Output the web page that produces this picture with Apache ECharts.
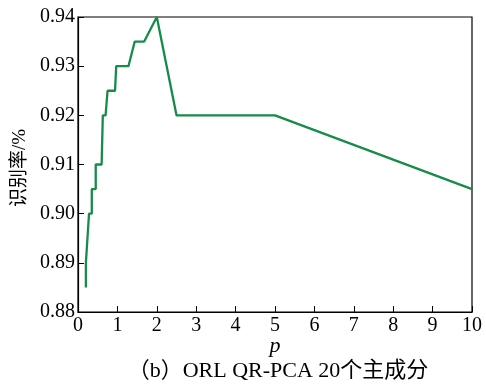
<!DOCTYPE html>
<html>
<head>
<meta charset="utf-8">
<script src="https://cdn.jsdelivr.net/npm/echarts@6/dist/echarts.min.js"></script>
<style>
  html, body { margin: 0; padding: 0; background: #fff; }
  #chart { width: 486px; height: 385px; }
</style>
</head>
<body>
<div id="chart"></div>
<script>
// Recognition rate versus parameter p (ORL, QR-PCA, 20 principal components)
const pValues = [0.2, 0.2, 0.24, 0.28, 0.28, 0.35, 0.35, 0.45, 0.45, 0.6, 0.63, 0.7, 0.75, 0.94, 0.97, 1.28, 1.44, 1.68, 2.0, 2.5, 5.0, 10.0];
const rates   = [0.885, 0.89, 0.895, 0.895, 0.90, 0.90, 0.905, 0.905, 0.91, 0.91, 0.92, 0.92, 0.925, 0.925, 0.93, 0.93, 0.935, 0.935, 0.94, 0.92, 0.92, 0.905];
const xTicks = [0, 10, 1];
const yTicks = [0.88, 0.94, 0.01];
const yName = '识别率/%';
const xName = 'p';
const caption = '（b）ORL QR-PCA 20个主成分';

const serif = '"Liberation Serif", "Times New Roman", "Noto Sans CJK SC", serif';
const chart = echarts.init(document.getElementById('chart'), null, { renderer: 'canvas' });

const axisCommon = {
  axisLine: { show: true, lineStyle: { color: '#000', width: 1.2 } },
  axisTick: { show: true, inside: true, length: 6, lineStyle: { color: '#000', width: 1 } },
  splitLine: { show: false },
  axisLabel: { color: '#000', fontFamily: serif, fontSize: 20 }
};

chart.setOption({
  animation: false,
  grid: { left: 78, right: 14, top: 17, bottom: 73, show: true, borderColor: '#000', borderWidth: 1.2 },
  xAxis: Object.assign({}, axisCommon, {
    type: 'value', min: xTicks[0], max: xTicks[1], interval: xTicks[2],
    axisLabel: Object.assign({}, axisCommon.axisLabel, { margin: 4 })
  }),
  yAxis: Object.assign({}, axisCommon, {
    type: 'value', min: yTicks[0], max: yTicks[1], interval: yTicks[2],
    axisLabel: Object.assign({}, axisCommon.axisLabel, {
      margin: 3,
      formatter: v => v.toFixed(2)
    })
  }),
  series: [{
    type: 'line',
    data: pValues.map((p, i) => [p, rates[i]]),
    showSymbol: false,
    lineStyle: { color: '#168c48', width: 2.3 },
    clip: false
  }],
  graphic: [
    {
      type: 'text', x: 20, y: 168, rotation: Math.PI / 2,
      style: { text: yName, fill: '#000', font: '19px ' + serif, align: 'center', verticalAlign: 'middle' }
    },
    {
      type: 'text', x: 275, y: 346,
      style: { text: xName, fill: '#000', font: 'italic 22px ' + serif, align: 'center', verticalAlign: 'middle' }
    },
    {
      type: 'text', x: 278, y: 371,
      style: { text: caption, fill: '#000', font: '22px ' + serif, align: 'center', verticalAlign: 'middle' }
    }
  ]
});
</script>
</body>
</html>
